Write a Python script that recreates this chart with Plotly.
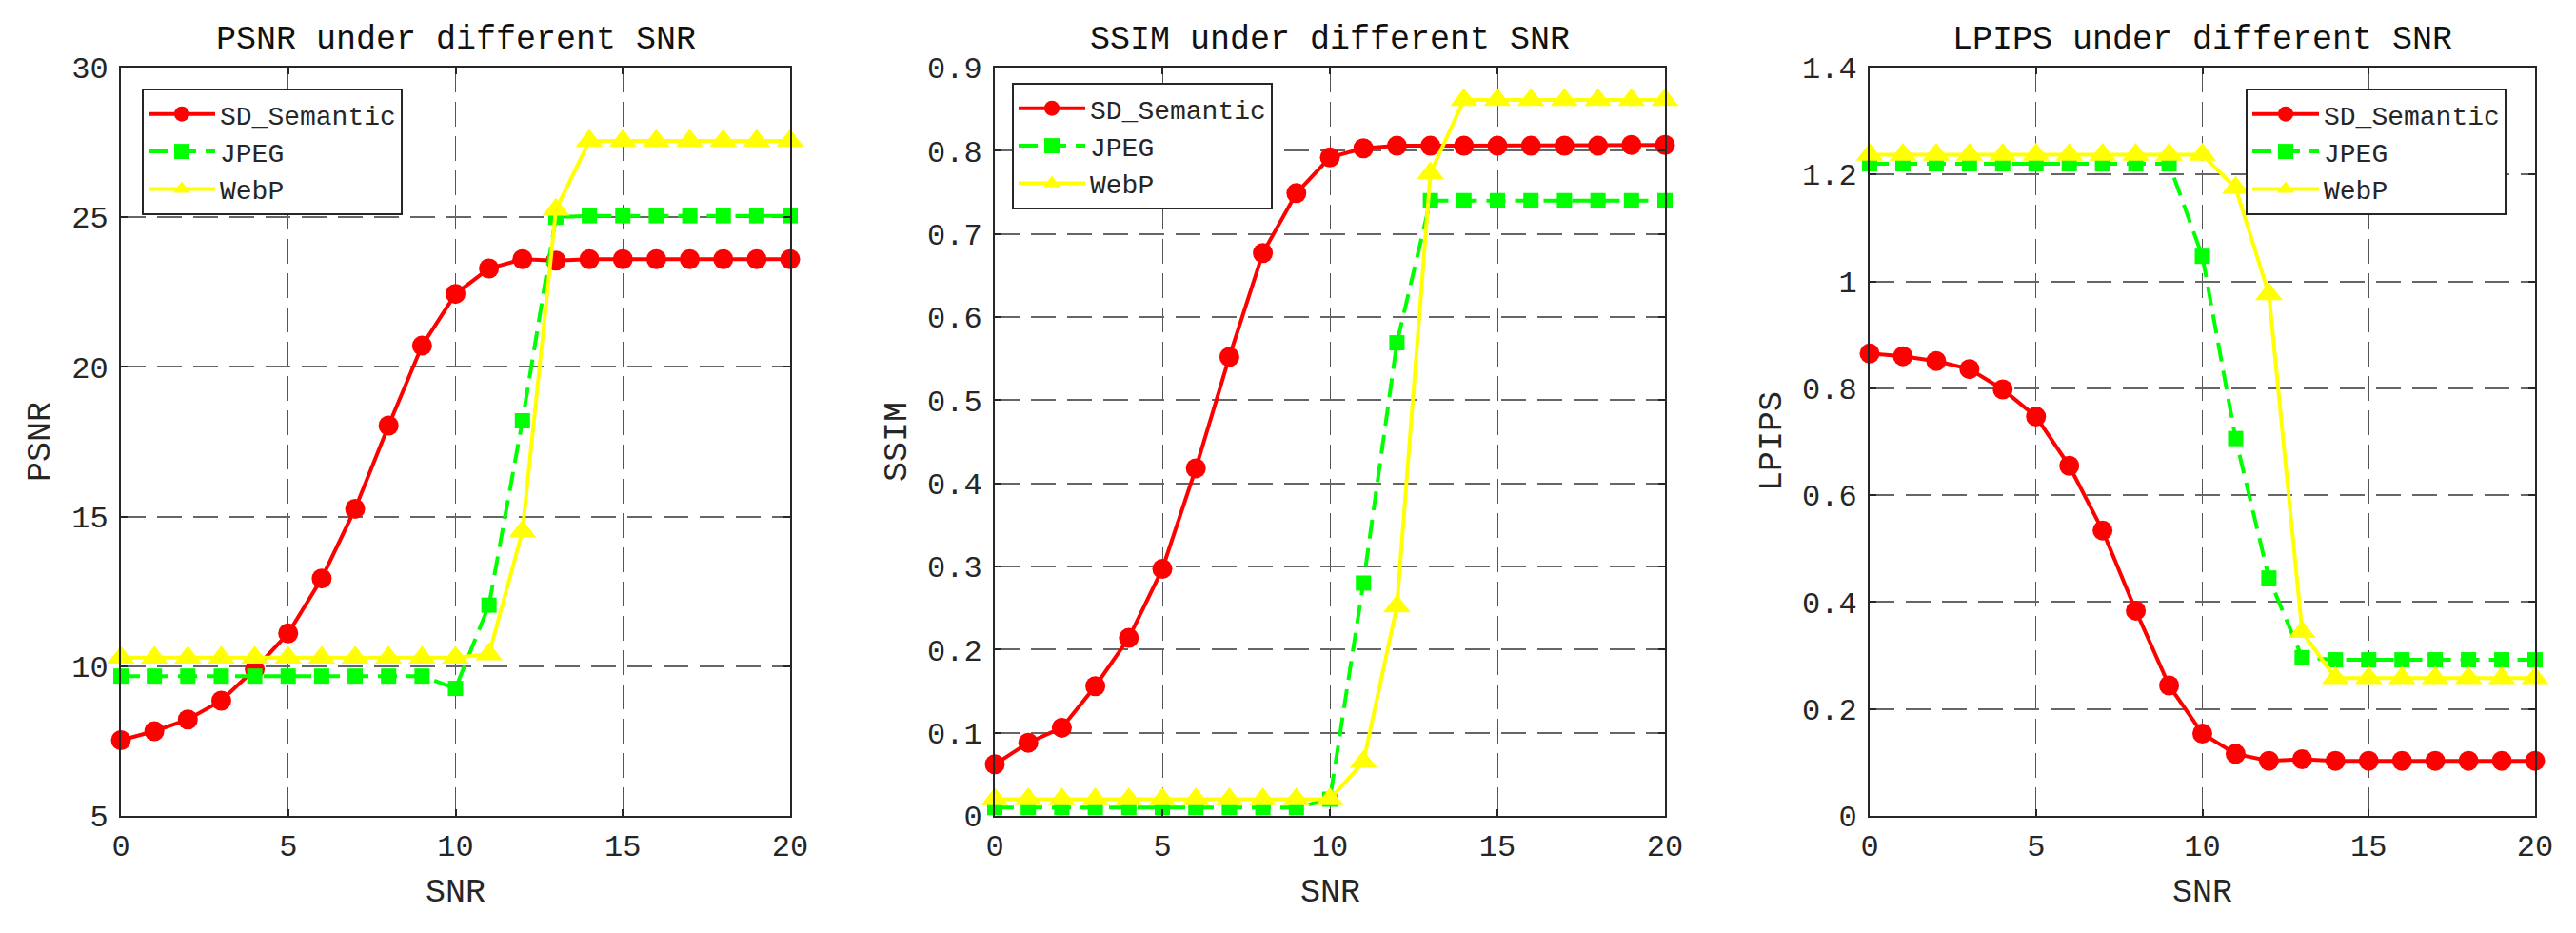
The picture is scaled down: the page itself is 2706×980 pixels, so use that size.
import plotly.graph_objects as go

snr = list(range(0, 21))

psnr_sd = [7.53, 7.83, 8.22, 8.85, 9.9, 11.10, 12.93, 15.26, 18.04, 20.71, 22.44, 23.29, 23.6, 23.55,
           23.6, 23.6, 23.6, 23.6, 23.6, 23.6, 23.6]
psnr_jpeg = [9.67, 9.67, 9.67, 9.67, 9.67, 9.67, 9.67, 9.67, 9.67, 9.67, 9.26, 12.04, 18.2, 25.0,
             25.05, 25.05, 25.05, 25.05, 25.05, 25.05, 25.05]
psnr_webp = [10.29, 10.29, 10.29, 10.29, 10.29, 10.29, 10.29, 10.29, 10.29, 10.29, 10.29, 10.4, 14.5, 25.25,
             27.55, 27.55, 27.55, 27.55, 27.55, 27.55, 27.55]

ssim_sd = [0.062, 0.088, 0.106, 0.156, 0.214, 0.297, 0.418, 0.552, 0.677, 0.749, 0.792, 0.803, 0.806, 0.806,
           0.806, 0.806, 0.806, 0.806, 0.806, 0.807, 0.807]
ssim_jpeg = [0.01, 0.01, 0.01, 0.01, 0.01, 0.01, 0.01, 0.01, 0.01, 0.01, 0.02, 0.28, 0.569, 0.74,
             0.74, 0.74, 0.74, 0.74, 0.74, 0.74, 0.74]
ssim_webp = [0.02, 0.02, 0.02, 0.02, 0.02, 0.02, 0.02, 0.02, 0.02, 0.02, 0.02, 0.065, 0.252, 0.773,
             0.861, 0.861, 0.861, 0.861, 0.861, 0.861, 0.861]

lpips_sd = [0.865, 0.860, 0.851, 0.836, 0.798, 0.747, 0.655, 0.534, 0.384, 0.244, 0.154, 0.116, 0.103, 0.106,
            0.103, 0.103, 0.103, 0.103, 0.103, 0.103, 0.103]
lpips_jpeg = [1.22, 1.22, 1.22, 1.22, 1.22, 1.22, 1.22, 1.22, 1.22, 1.22, 1.047, 0.706, 0.445, 0.296,
              0.292, 0.292, 0.292, 0.292, 0.292, 0.292, 0.292]
lpips_webp = [1.237, 1.237, 1.237, 1.237, 1.237, 1.237, 1.237, 1.237, 1.237, 1.237, 1.237, 1.175, 0.976, 0.344,
              0.258, 0.258, 0.258, 0.258, 0.258, 0.258, 0.258]

series_names = ["SD_Semantic", "JPEG", "WebP"]
titles = ["PSNR under different SNR", "SSIM under different SNR", "LPIPS under different SNR"]
ylabels = ["PSNR", "SSIM", "LPIPS"]
xlabel = "SNR"
yranges = [[5, 30], [0, 0.9], [0, 1.4]]
yticks = [[5, 10, 15, 20, 25, 30],
          [0, 0.1, 0.2, 0.3, 0.4, 0.5, 0.6, 0.7, 0.8, 0.9],
          [0, 0.2, 0.4, 0.6, 0.8, 1.0, 1.2, 1.4]]
xticks = [0, 5, 10, 15, 20]

W, H = 2706, 980
FONT = "Liberation Mono"
TXT = "#262626"

panels = [
    (psnr_sd, psnr_jpeg, psnr_webp),
    (ssim_sd, ssim_jpeg, ssim_webp),
    (lpips_sd, lpips_jpeg, lpips_webp),
]
# plot areas in px (left, right)
xpx = [(127, 830), (1045, 1749), (1964, 2663)]
ytop, ybot = 71, 857
legend_pos = [(149, 93), (1063, 87), (2359, 93)]

styles = [
    dict(color="#ff0000", dash="solid", symbol="circle", size=21),
    dict(color="#00ff00", dash="20px,10px", symbol="square", size=16),
    dict(color="#ffff00", dash="solid", symbol="triangle-up", size=25),
]

fig = go.Figure()
annotations = []
for i, data in enumerate(panels):
    ax = "" if i == 0 else str(i + 1)
    leg = "legend" if i == 0 else f"legend{i + 1}"
    for j, vals in enumerate(data):
        st = styles[j]
        fig.add_trace(go.Scatter(
            x=snr, y=vals, name=series_names[j], mode="lines+markers",
            xaxis="x" + ax, yaxis="y" + ax, legend=leg, cliponaxis=False,
            line=dict(color=st["color"], width=4, dash=st["dash"]),
            marker=dict(symbol=st["symbol"], size=st["size"], color=st["color"],
                        line=dict(width=0)),
        ))
    l, r = xpx[i]
    dom_x = [l / W, r / W]
    dom_y = [1 - ybot / H, 1 - ytop / H]
    fig.layout["xaxis" + ax] = dict(
        domain=dom_x, range=[0, 20], tickvals=xticks, anchor="y" + ax, automargin=False,
        showgrid=True, gridcolor="#555555", gridwidth=1, griddash="26px,10px",
        showline=True, mirror="ticks", linecolor=TXT, linewidth=2,
        ticks="inside", ticklen=7, tickcolor=TXT, tickwidth=2,
        tickfont=dict(family=FONT, size=32, color=TXT), ticklabelstandoff=2,
        zeroline=False,
    )
    fig.layout["yaxis" + ax] = dict(
        domain=dom_y, range=yranges[i], tickvals=yticks[i], anchor="x" + ax, automargin=False,
        showgrid=True, gridcolor="#666666", gridwidth=2, griddash="26px,12px",
        showline=True, mirror="ticks", linecolor=TXT, linewidth=2,
        ticks="inside", ticklen=7, tickcolor=TXT, tickwidth=2,
        tickfont=dict(family=FONT, size=32, color=TXT), ticklabelstandoff=5,
        zeroline=False,
    )
    lx, ly = legend_pos[i]
    fig.layout[leg] = dict(
        x=lx / W, y=1 - ly / H, xanchor="left", yanchor="top",
        bgcolor="white", bordercolor=TXT, borderwidth=2,
        font=dict(family=FONT, size=28, color=TXT), itemwidth=70,
        tracegroupgap=0,
    )
    cx = (l + r) / 2 / W
    annotations.append(dict(text=titles[i], x=cx, y=1 - 42 / H, xref="paper", yref="paper",
                            showarrow=False, xanchor="center", yanchor="middle",
                            font=dict(family=FONT, size=35, color="#111111")))
    annotations.append(dict(text=xlabel, x=cx, y=1 - 938 / H, xref="paper", yref="paper",
                            showarrow=False, xanchor="center", yanchor="middle",
                            font=dict(family=FONT, size=35, color=TXT)))
    ylx = [43, 943, 1862][i]
    annotations.append(dict(text=ylabels[i], x=ylx / W, y=1 - 464 / H, xref="paper", yref="paper",
                            showarrow=False, xanchor="center", yanchor="middle", textangle=-90,
                            font=dict(family=FONT, size=35, color=TXT)))

fig.update_layout(
    width=W, height=H, margin=dict(l=0, r=0, t=0, b=0, autoexpand=False),
    paper_bgcolor="white", plot_bgcolor="white",
    annotations=annotations, showlegend=True,
)

fig.write_html("out.html")
